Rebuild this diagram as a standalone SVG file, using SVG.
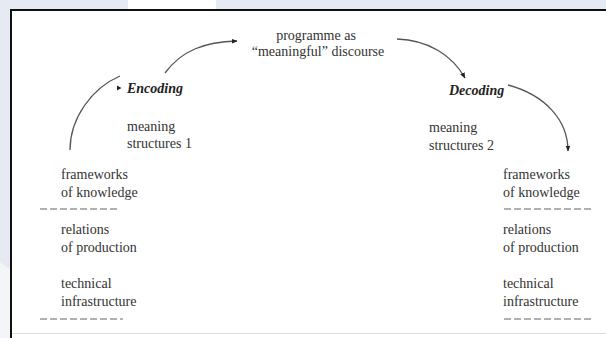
<svg xmlns="http://www.w3.org/2000/svg" width="606" height="338" viewBox="0 0 606 338">
  <style>
    text { font-family: "Liberation Serif", "DejaVu Serif", serif; font-size: 14px; fill: #333; }
    .stage { font-weight: bold; font-style: italic; font-size: 14px; fill: #222; }
    .arc { fill: none; stroke: #555; stroke-width: 1.3; }
    .dash { stroke: #999; stroke-width: 1.5; stroke-dasharray: 7 3; }
  </style>
  <defs>
    <marker id="ah" viewBox="0 0 10 10" refX="9" refY="5" markerWidth="6" markerHeight="6" orient="auto" markerUnits="userSpaceOnUse">
      <path d="M0,1 L10,5 L0,9 z" fill="#222"/>
    </marker>
  </defs>
  <!-- background -->
  <rect x="0" y="0" width="606" height="338" fill="#e6eaf2"/>
  <polygon points="0,262 11,270 11,338 0,338" fill="#f3f5f9"/>
  <rect x="128" y="0" width="88" height="10" fill="#ffffff"/>
  <rect x="11" y="10" width="595" height="328" fill="#ffffff"/>
  <line x1="11" y1="10" x2="606" y2="10" stroke="#111" stroke-width="2"/>
  <line x1="11" y1="9" x2="11" y2="338" stroke="#111" stroke-width="2"/>
  <line x1="12" y1="333.5" x2="606" y2="333.5" stroke="#ddd" stroke-width="1"/>

  <g id="connectors">
    <path class="arc" d="M70,150 C70,118 92,88 120,76"/>
    <path d="M117,85.5 L121.5,88 L117,90.5 z" fill="#222"/>
    <path class="arc" d="M165,73 C182,50 205,42 237,41" marker-end="url(#ah)"/>
    <path class="arc" d="M397,39 C428,40 452,55 465,78" marker-end="url(#ah)"/>
    <path class="arc" d="M508,85 C545,95 568,120 568,151" marker-end="url(#ah)"/>
  </g>

  <g id="programme" font-family="Liberation Serif, serif">
    <text x="316" y="40" text-anchor="middle">programme as</text>
    <text x="318" y="56" text-anchor="middle">“meaningful” discourse</text>
  </g>
  <g id="encoding">
    <text class="stage" x="127" y="93">Encoding</text>
  </g>
  <g id="decoding">
    <text class="stage" x="449" y="95">Decoding</text>
  </g>
  <g id="meaning1">
    <text x="127" y="131">meaning</text>
    <text x="127" y="148">structures 1</text>
  </g>
  <g id="meaning2">
    <text x="429" y="132">meaning</text>
    <text x="429" y="150">structures 2</text>
  </g>
  <g id="left-frameworks">
    <text x="61" y="179">frameworks</text>
    <text x="61" y="197">of knowledge</text>
    <line class="dash" x1="40" y1="209" x2="119" y2="209"/>
    <text x="61" y="234">relations</text>
    <text x="61" y="252">of production</text>
    <text x="61" y="288">technical</text>
    <text x="61" y="306">infrastructure</text>
    <line class="dash" x1="40" y1="319" x2="123" y2="319"/>
  </g>
  <g id="right-frameworks">
    <text x="503" y="179">frameworks</text>
    <text x="503" y="197">of knowledge</text>
    <line class="dash" x1="504" y1="209" x2="592" y2="209"/>
    <text x="503" y="234">relations</text>
    <text x="503" y="252">of production</text>
    <text x="503" y="288">technical</text>
    <text x="503" y="306">infrastructure</text>
    <line class="dash" x1="504" y1="319" x2="592" y2="319"/>
  </g>
</svg>
